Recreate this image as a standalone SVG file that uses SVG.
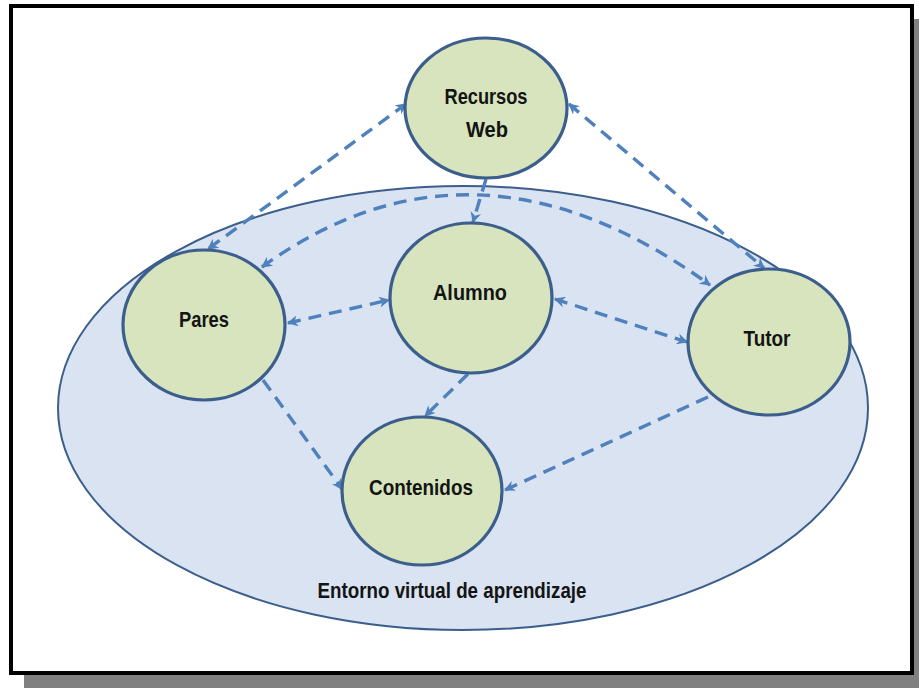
<svg xmlns="http://www.w3.org/2000/svg" width="919" height="688" viewBox="0 0 919 688">
  <style>
    .node { fill: #d7e4bd; stroke: #3b5e8c; stroke-width: 3.2; }
    .label { font-family: "Liberation Sans", Arial, sans-serif; font-weight: bold; font-size: 22px; fill: #141414; text-anchor: middle; }
    .link { fill: none; stroke: #4f81bd; stroke-width: 3.4; stroke-dasharray: 13 8; }
  </style>
  <defs>
    <marker id="head" viewBox="0 0 10 10" refX="9" refY="5" markerWidth="11" markerHeight="11" markerUnits="userSpaceOnUse" orient="auto-start-reverse">
      <path d="M0,0 L10,5 L0,10 L3,5 z" fill="#4f81bd"/>
    </marker>
  </defs>

  <!-- page frame with drop shadow -->
  <rect x="24" y="19" width="905" height="671" fill="#808080"/>
  <rect x="11" y="6" width="901" height="667" fill="#ffffff" stroke="#000000" stroke-width="4"/>

  <!-- learning environment -->
  <g id="entorno">
    <ellipse cx="463" cy="408" rx="405" ry="222" fill="#d9e3f1" stroke="#3b5e8c" stroke-width="2"/>
    <text class="label" x="452" y="598" font-size="19" textLength="269" lengthAdjust="spacingAndGlyphs">Entorno virtual de aprendizaje</text>
  </g>

  <!-- connectors -->
  <g id="connectors">
    <path class="link" d="M406,104 L208,249" marker-start="url(#head)" marker-end="url(#head)"/>
    <path class="link" d="M569,104 L764,268" marker-start="url(#head)" marker-end="url(#head)"/>
    <path class="link" d="M486,179 L473,222" marker-end="url(#head)"/>
    <path class="link" d="M262,267 Q474,114 710,285" marker-start="url(#head)" marker-end="url(#head)"/>
    <path class="link" d="M288,323 L389,300" marker-start="url(#head)" marker-end="url(#head)"/>
    <path class="link" d="M555,299 L687,342" marker-start="url(#head)" marker-end="url(#head)"/>
    <path class="link" d="M468,374 L425,416" marker-end="url(#head)"/>
    <path class="link" d="M263,380 L342,489" marker-end="url(#head)"/>
    <path class="link" d="M708,397 L505,490" marker-end="url(#head)"/>
  </g>

  <g id="recursos-web">
    <ellipse class="node" cx="486" cy="108" rx="81" ry="70"/>
    <text class="label" x="486" y="104" textLength="83" lengthAdjust="spacingAndGlyphs">Recursos</text>
    <text class="label" x="487" y="137" textLength="42" lengthAdjust="spacingAndGlyphs">Web</text>
  </g>

  <g id="pares">
    <ellipse class="node" cx="204" cy="325" rx="81" ry="75"/>
    <text class="label" x="204" y="327" textLength="50" lengthAdjust="spacingAndGlyphs">Pares</text>
  </g>

  <g id="alumno">
    <ellipse class="node" cx="471" cy="298" rx="81" ry="75"/>
    <text class="label" x="470" y="300" textLength="74" lengthAdjust="spacingAndGlyphs">Alumno</text>
  </g>

  <g id="tutor">
    <ellipse class="node" cx="769" cy="342" rx="81" ry="73"/>
    <text class="label" x="767" y="346" textLength="47" lengthAdjust="spacingAndGlyphs">Tutor</text>
  </g>

  <g id="contenidos">
    <ellipse class="node" cx="422" cy="491" rx="80" ry="74"/>
    <text class="label" x="421" y="495" textLength="104" lengthAdjust="spacingAndGlyphs">Contenidos</text>
  </g>
</svg>
